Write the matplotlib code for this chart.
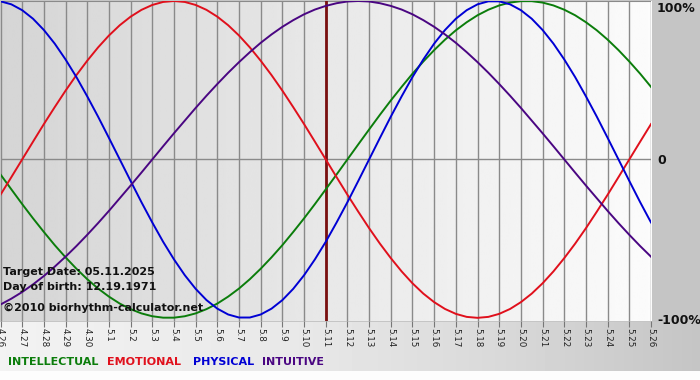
import numpy as np
import matplotlib
matplotlib.use('Agg')
import matplotlib.pyplot as plt

# day labels 4.26 .. 5.26
day_labels = ['4.26', '4.27', '4.28', '4.29', '4.30'] + ['5.%d' % d for d in range(1, 27)]

# curve readings, one every half day from 4.26 to 5.26
physical = [0.998, 0.979, 0.942, 0.888, 0.817, 0.731, 0.631, 0.520, 0.398, 0.270, 0.136,
            0.000, -0.136, -0.270, -0.398, -0.520, -0.631, -0.731, -0.817, -0.888, -0.942,
            -0.979, -0.998, -0.998, -0.979, -0.942, -0.888, -0.817, -0.731, -0.631, -0.520,
            -0.398, -0.270, -0.136, 0.000, 0.136, 0.270, 0.398, 0.520, 0.631, 0.731,
            0.817, 0.888, 0.942, 0.979, 0.998, 0.998, 0.979, 0.942, 0.888, 0.817,
            0.731, 0.631, 0.520, 0.398, 0.270, 0.136, 0.000, -0.136, -0.270, -0.398]
emotional = [-0.223, -0.112, 0.000, 0.112, 0.223, 0.330, 0.434, 0.532, 0.623, 0.707, 0.782,
             0.847, 0.901, 0.944, 0.975, 0.994, 1.000, 0.994, 0.975, 0.944, 0.901,
             0.847, 0.782, 0.707, 0.623, 0.532, 0.434, 0.330, 0.223, 0.112, 0.000,
             -0.112, -0.223, -0.330, -0.434, -0.532, -0.623, -0.707, -0.782, -0.847, -0.901,
             -0.944, -0.975, -0.994, -1.000, -0.994, -0.975, -0.944, -0.901, -0.847, -0.782,
             -0.707, -0.623, -0.532, -0.434, -0.330, -0.223, -0.112, 0.000, 0.112, 0.223]
intellectual = [-0.095, -0.189, -0.282, -0.372, -0.458, -0.541, -0.618, -0.690, -0.756, -0.815, -0.866,
                -0.910, -0.945, -0.972, -0.990, -0.999, -0.999, -0.990, -0.972, -0.945, -0.910,
                -0.866, -0.815, -0.756, -0.690, -0.618, -0.541, -0.458, -0.372, -0.282, -0.189,
                -0.095, 0.000, 0.095, 0.189, 0.282, 0.372, 0.458, 0.541, 0.618, 0.690,
                0.756, 0.815, 0.866, 0.910, 0.945, 0.972, 0.990, 0.999, 0.999, 0.990,
                0.972, 0.945, 0.910, 0.866, 0.815, 0.756, 0.690, 0.618, 0.541, 0.458]
intuitive = [-0.916, -0.879, -0.837, -0.789, -0.736, -0.677, -0.614, -0.547, -0.476, -0.402, -0.325,
             -0.245, -0.165, -0.083, 0.000, 0.083, 0.165, 0.245, 0.325, 0.402, 0.476,
             0.547, 0.614, 0.677, 0.736, 0.789, 0.837, 0.879, 0.916, 0.946, 0.969,
             0.986, 0.997, 1.000, 0.997, 0.986, 0.969, 0.946, 0.916, 0.879, 0.837,
             0.789, 0.736, 0.677, 0.614, 0.547, 0.476, 0.402, 0.325, 0.245, 0.165,
             0.083, 0.000, -0.083, -0.165, -0.245, -0.325, -0.402, -0.476, -0.547, -0.614]

target_label = '5.11'
info_lines = ['Target Date: 05.11.2025', 'Day of birth: 12.19.1971', '\u00a92010 biorhythm-calculator.net']
legend_names = ['INTELLECTUAL', 'EMOTIONAL', 'PHYSICAL', 'INTUITIVE']
pct_labels = ['100%', '0', '-100%']

GREEN = '#0b7d0b'
RED = '#e0101c'
BLUE = '#0000d4'
PURPLE = '#4a0682'

W, H = 700, 380
fig = plt.figure(figsize=(W / 100, H / 100), dpi=100)

# figure background: gray margin on the right, lighter gradient at bottom
bg = fig.add_axes([0, 0, 1, 1], zorder=-2)
bg.set_axis_off()
img = np.ones((H, W)) * 0.77
px = np.arange(W)
band = np.interp(px, [0, 300, 500, 650, 700], [0.95, 0.91, 0.85, 0.79, 0.77])
img[322:371, :] = band[None, :]
img[371:, :] = 0.99
bg.imshow(img, cmap='gray', vmin=0, vmax=1, aspect='auto', extent=(0, 1, 0, 1), origin='upper')
bg.set_xlim(0, 1)
bg.set_ylim(0, 1)

ax = fig.add_axes([0.5 / W, 1 - 321 / H, 650.5 / W, 320 / H])
n_days = len(day_labels)
days = np.arange(n_days)
t = np.arange(len(physical)) / 2.0
ax.set_xlim(0, n_days - 1)
ax.set_ylim(-1.02, 1.0)

# plot area gradient gray -> white
grad = np.linspace(0.835, 0.985, 256)[None, :]
ax.imshow(grad, cmap='gray', vmin=0, vmax=1, aspect='auto',
          extent=(0, n_days - 1, -1.02, 1.0), zorder=0)

for d in days:
    ax.axvline(d, color='#8a8a8a', lw=1.0, zorder=1)
ax.axhline(0, color='#8a8a8a', lw=1.0, zorder=1)
ax.axhline(1.0, color='#8a8a8a', lw=1.5, zorder=1)

ax.axvline(day_labels.index(target_label), color='#7a1010', lw=2.0, zorder=2)

ax.plot(t, intellectual, color=GREEN, lw=1.4, zorder=3)
ax.plot(t, emotional, color=RED, lw=1.4, zorder=3)
ax.plot(t, physical, color=BLUE, lw=1.4, zorder=3)
ax.plot(t, intuitive, color=PURPLE, lw=1.4, zorder=3)

for s in ax.spines.values():
    s.set_visible(False)
ax.set_yticks([])
ax.set_xticks(days)
ax.set_xticklabels(day_labels, rotation=270, fontsize=6.3, color='#222222')
ax.tick_params(axis='x', length=4, width=0.8, color='#777777', pad=1)

# right-side percent labels
for lab, py in zip(pct_labels, [8, 161, 321]):
    fig.text(657 / W, 1 - py / H, lab, ha='left', va='center',
             fontsize=9, fontweight='bold', color='#111111')

for line, py in zip(info_lines, [272, 287, 308]):
    fig.text(3 / W, 1 - py / H, line, ha='left', va='center',
             fontsize=8.0, fontweight='bold', color='#111111')

for name, col, x0 in zip(legend_names, [GREEN, RED, BLUE, PURPLE], [8, 107, 193, 262]):
    fig.text(x0 / W, 1 - 362 / H, name, ha='left', va='center',
             fontsize=8.0, fontweight='bold', color=col)

fig.savefig('out.png', dpi=100)
